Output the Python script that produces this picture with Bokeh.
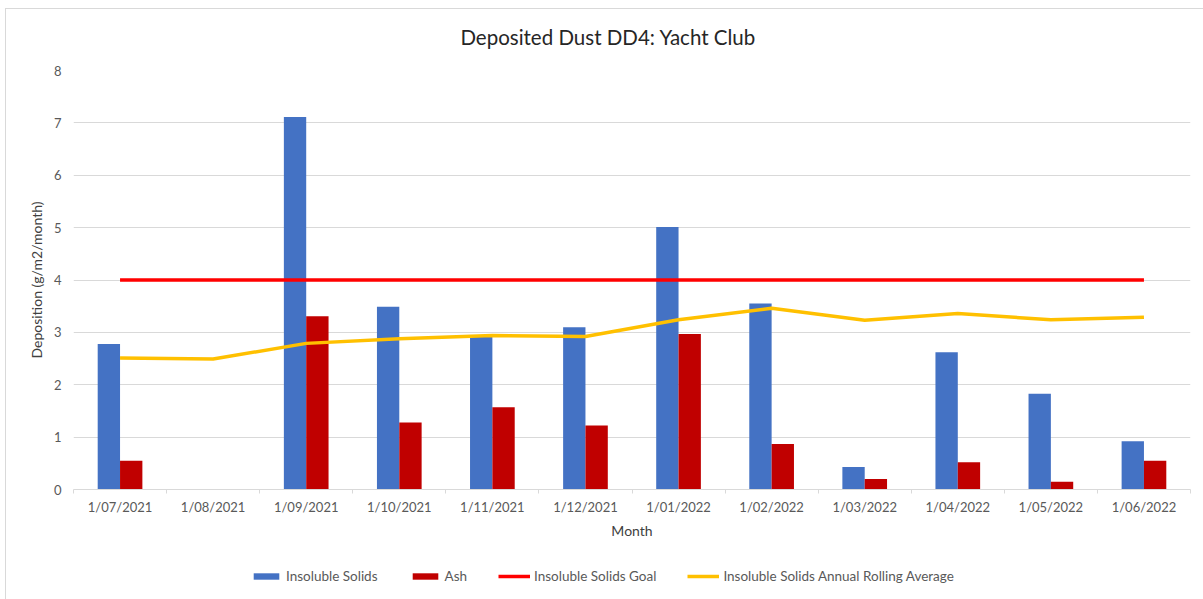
from bokeh.plotting import figure
from bokeh.layouts import column
from bokeh.models import (ColumnDataSource, Range1d, FixedTicker, Legend, LegendItem)
from bokeh.core.properties import value
from bokeh.transform import dodge
from bokeh.embed import file_html
from bokeh.resources import INLINE

# Monthly deposited dust at DD4 (g/m2/month)
title_text = "Deposited Dust DD4: Yacht Club"
months = ["1/07/2021", "1/08/2021", "1/09/2021", "1/10/2021", "1/11/2021", "1/12/2021",
          "1/01/2022", "1/02/2022", "1/03/2022", "1/04/2022", "1/05/2022", "1/06/2022"]
insoluble_solids = [2.78, float("nan"), 7.11, 3.49, 2.91, 3.10, 5.01, 3.55, 0.43, 2.62, 1.83, 0.92]
ash = [0.55, float("nan"), 3.31, 1.28, 1.57, 1.22, 2.97, 0.87, 0.20, 0.52, 0.15, 0.55]
goal = [4, 4, 4, 4, 4, 4, 4, 4, 4, 4, 4, 4]
rolling_avg = [2.51, 2.49, 2.79, 2.88, 2.94, 2.92, 3.24, 3.46, 3.23, 3.36, 3.24, 3.29]
y_ticks = [0, 1, 2, 3, 4, 5, 6, 7, 8]

series_labels = ["Insoluble Solids", "Ash", "Insoluble Solids Goal",
                 "Insoluble Solids Annual Rolling Average"]
BLUE, DARK_RED, RED, GOLD = "#4472C4", "#C00000", "#FF0000", "#FFC000"

idx = list(range(len(months)))
src = ColumnDataSource(dict(x=idx, solids=insoluble_solids, ash=ash, goal=goal, avg=rolling_avg))

FONT = "Lato"
GREY_TXT = "#595959"
W = 1197
TITLE_H = 50

# title strip: a frame spanning the whole strip, measured in pixels
head = figure(width=W, height=TITLE_H, output_backend="svg", toolbar_location=None,
              x_range=Range1d(0, W), y_range=Range1d(0, TITLE_H),
              x_axis_location=None, y_axis_location=None,
              min_border=0, outline_line_color=None, border_fill_color="white")
head.grid.visible = False
head.text(x=[573], y=[TITLE_H - 27], text=[title_text], text_align="center",
          text_baseline="middle", text_font=value(FONT), text_font_size="20.5px",
          text_color="#262626")

p = figure(width=W, height=482, output_backend="svg", toolbar_location=None,
           x_range=Range1d(-0.5, len(months) - 0.5), y_range=Range1d(0, 8),
           min_border_left=67, min_border_right=13, min_border_top=11, min_border_bottom=20,
           outline_line_color=None, background_fill_color="white", border_fill_color="white")

bar_w = 0.24
p.vbar(x=dodge("x", -bar_w / 2, range=p.x_range), top="solids", width=bar_w,
       source=src, fill_color=BLUE, line_color=None)
p.vbar(x=dodge("x", bar_w / 2, range=p.x_range), top="ash", width=bar_w,
       source=src, fill_color=DARK_RED, line_color=None)
p.line(x="x", y="goal", source=src, line_color=RED, line_width=3.5)
p.line(x="x", y="avg", source=src, line_color=GOLD, line_width=3.5)

# axes
p.xgrid.visible = False
p.ygrid.grid_line_color = "#d9d9d9"
p.ygrid.grid_line_width = 1

p.yaxis.ticker = FixedTicker(ticks=y_ticks)
p.yaxis.axis_line_color = None
p.yaxis.major_tick_line_color = None
p.yaxis.major_tick_out = 0
p.yaxis.minor_tick_line_color = None
p.yaxis.major_label_text_font = FONT
p.yaxis.major_label_text_font_size = "13px"
p.yaxis.major_label_text_color = GREY_TXT
p.yaxis.major_label_standoff = 12
p.yaxis.axis_label = "Deposition (g/m2/month)"
p.yaxis.axis_label_text_font = FONT
p.yaxis.axis_label_text_font_size = "14px"
p.yaxis.axis_label_text_font_style = "normal"
p.yaxis.axis_label_text_color = "#404040"
p.yaxis.axis_label_standoff = 6

p.xaxis.ticker = FixedTicker(ticks=idx, minor_ticks=[i - 0.5 for i in range(len(months) + 1)])
p.xaxis.major_label_overrides = {i: m for i, m in enumerate(months)}
p.xaxis.axis_line_color = "#d9d9d9"
p.xaxis.major_tick_line_color = None
p.xaxis.major_tick_out = 0
p.xaxis.minor_tick_line_color = "#d9d9d9"
p.xaxis.minor_tick_in = 0
p.xaxis.minor_tick_out = 4
p.xaxis.major_label_text_font = FONT
p.xaxis.major_label_text_font_size = "13px"
p.xaxis.major_label_text_color = GREY_TXT
p.xaxis.major_label_standoff = 5
p.xaxis.axis_label = "Month"
p.xaxis.axis_label_text_font = FONT
p.xaxis.axis_label_text_font_size = "14px"
p.xaxis.axis_label_text_font_style = "normal"
p.xaxis.axis_label_text_color = "#404040"
p.xaxis.axis_label_standoff = 4

# legend strip under the chart; its key renderers share the chart data but
# sit on a range where none of it falls, so only the legend keys show
leg = figure(width=W, height=58, output_backend="svg", toolbar_location=None,
             x_range=Range1d(100, 101), y_range=Range1d(100, 101),
             x_axis_location=None, y_axis_location=None,
             min_border=0, outline_line_color=None, border_fill_color="white")
leg.grid.visible = False
key_renderers = [
    leg.vbar(x="x", top="solids", width=bar_w, source=src, fill_color=BLUE, line_color=None),
    leg.vbar(x="x", top="ash", width=bar_w, source=src, fill_color=DARK_RED, line_color=None),
    leg.line(x="x", y="goal", source=src, line_color=RED, line_width=3.5),
    leg.line(x="x", y="avg", source=src, line_color=GOLD, line_width=3.5),
]
legend = Legend(items=[LegendItem(label=lbl, renderers=[r])
                       for lbl, r in zip(series_labels, key_renderers)],
                orientation="horizontal", location=(177, 15))
legend.glyph_width = 32
legend.glyph_height = 8
legend.label_standoff = 4
legend.spacing = 31
legend.padding = 0
legend.margin = 0
legend.border_line_color = None
legend.background_fill_alpha = 0
legend.label_text_font = FONT
legend.label_text_font_size = "13.5px"
legend.label_text_color = GREY_TXT
legend.label_height = 14
leg.add_layout(legend, "center")

layout = column(head, p, leg, spacing=0)
layout.margin = (8, 0, 0, 5)
layout.styles = {"border-top": "1px solid #d9d9d9", "border-left": "1px solid #d9d9d9"}

open("out.html", "w").write(file_html(layout, INLINE))
